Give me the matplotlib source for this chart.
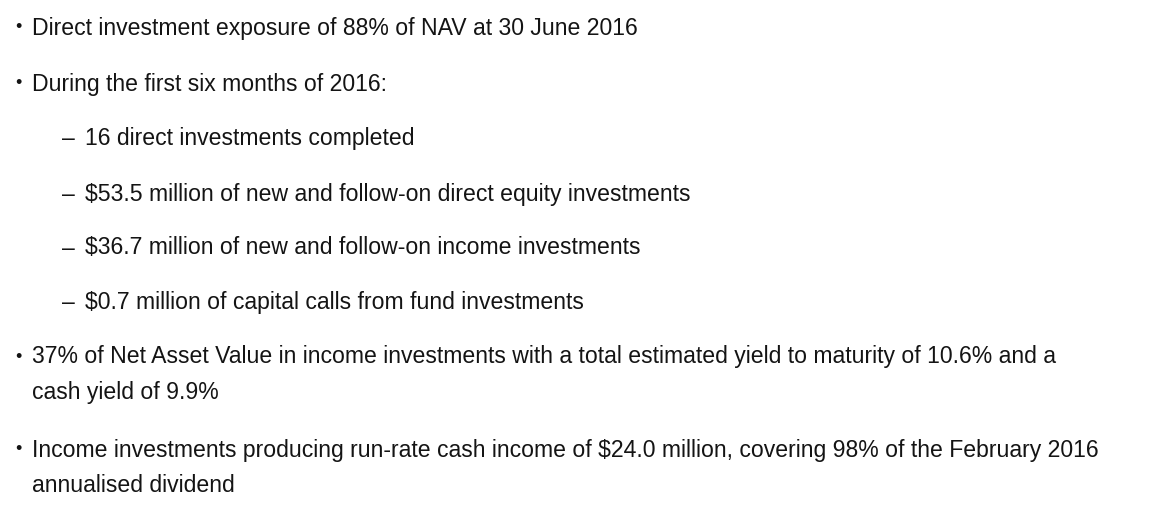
import matplotlib.pyplot as plt
from matplotlib import font_manager

# slide text: (level, text) ; level 0 = bullet, 1 = dash sub-item, 2 = continuation line
lines = [
    (0, "Direct investment exposure of 88% of NAV at 30 June 2016"),
    (0, "During the first six months of 2016:"),
    (1, "16 direct investments completed"),
    (1, "$53.5 million of new and follow-on direct equity investments"),
    (1, "$36.7 million of new and follow-on income investments"),
    (1, "$0.7 million of capital calls from fund investments"),
    (0, "37% of Net Asset Value in income investments with a total estimated yield to maturity of 10.6% and a"),
    (2, "cash yield of 9.9%"),
    (0, "Income investments producing run-rate cash income of $24.0 million, covering 98% of the February 2016"),
    (2, "annualised dividend"),
]
# vertical centre of each line in pixels from the top
line_y = [28, 84, 139, 194, 248, 302, 357, 392, 450, 485]

W, H = 1152, 512
names = {f.name for f in font_manager.fontManager.ttflist}
family = "Liberation Sans Narrow" if "Liberation Sans Narrow" in names else "Liberation Sans"

fig = plt.figure(figsize=(W / 100, H / 100), dpi=100)
fig.patch.set_facecolor("white")

text_kw = dict(fontfamily=family, fontsize=16.6, color="#141414", va="center")
for (level, txt), y in zip(lines, line_y):
    fy = 1 - y / H
    if level == 0:
        fig.text(15 / W, fy, "\u2022", fontfamily=family, fontsize=13, color="#141414", va="center")
        fig.text(32 / W, fy, txt, **text_kw)
    elif level == 1:
        fig.text(62 / W, fy, "\u2013", **text_kw)
        fig.text(85 / W, fy, txt, **text_kw)
    else:
        fig.text(32 / W, fy, txt, **text_kw)

fig.savefig("out.png", dpi=100, facecolor="white")
